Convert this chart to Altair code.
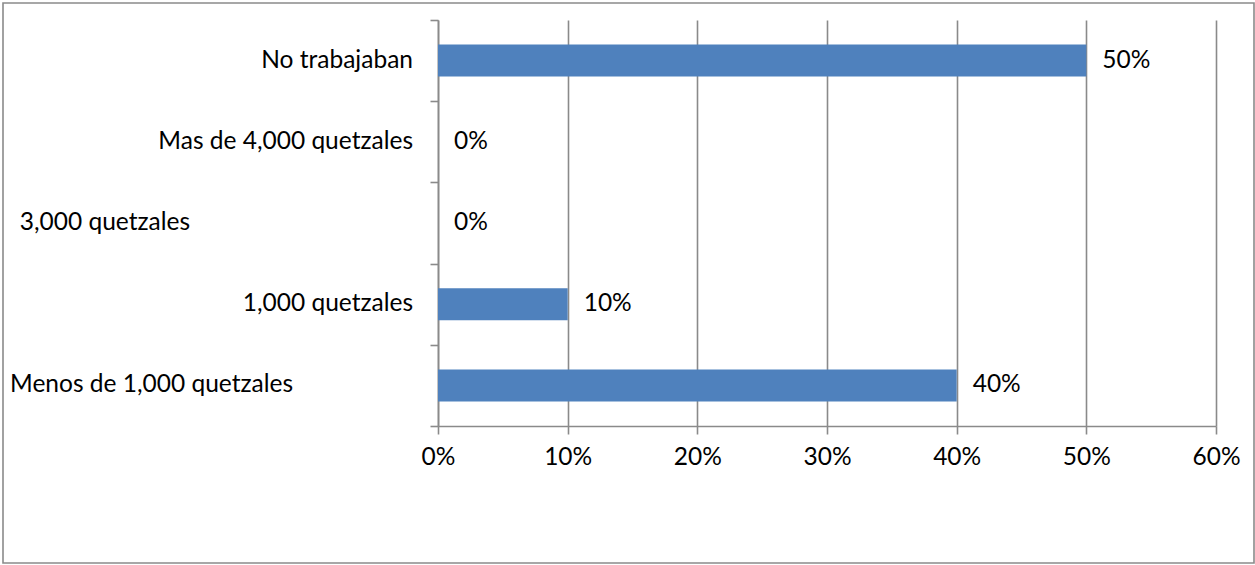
import altair as alt
import pandas as pd

categories = ["No trabajaban", "Mas de 4,000 quetzales", "3,000 quetzales",
              "1,000 quetzales", "Menos de 1,000 quetzales"]
values = [0.50, 0.0, 0.0, 0.10, 0.40]
x_ticks = [0, 0.1, 0.2, 0.3, 0.4, 0.5, 0.6]

df = pd.DataFrame({"cat": categories, "val": values})

FONT = "Lato"
GRAY = "#8a8a8a"
FS = 24.5
LW = 1.6

y_scale = alt.Scale(domain=categories, paddingInner=0, paddingOuter=0)
x_scale = alt.Scale(domain=[0, 0.6], nice=False)

base = alt.Chart(df)

bars = base.mark_bar(color="#4F81BD", size=32).encode(
    x=alt.X("val:Q", scale=x_scale,
            axis=alt.Axis(values=x_ticks, format=".0%", title=None, grid=True,
                          gridColor=GRAY, gridOpacity=1, gridWidth=LW,
                          domainColor=GRAY, domainWidth=LW,
                          tickColor=GRAY, tickWidth=LW, tickSize=8,
                          labelPadding=11, labelFlush=False)),
    y=alt.Y("cat:N", scale=y_scale, sort=categories,
            axis=alt.Axis(labels=False, title=None, tickBand="extent",
                          domainColor=GRAY, domainWidth=LW,
                          tickColor=GRAY, tickWidth=LW, tickSize=8,
                          grid=False)),
)

value_labels = base.mark_text(align="left", baseline="middle", dx=16,
                              font=FONT, fontSize=FS, color="black").encode(
    x=alt.X("val:Q", scale=x_scale),
    y=alt.Y("cat:N", scale=y_scale, sort=categories),
    text=alt.Text("val:Q", format=".0%"),
)

normal_cats = ["No trabajaban", "Mas de 4,000 quetzales", "1,000 quetzales"]

cat_labels_a = base.transform_filter(
    alt.FieldOneOfPredicate(field="cat", oneOf=normal_cats)
).mark_text(align="right", baseline="middle", dx=-25, font=FONT,
            fontSize=FS, color="black").encode(
    x=alt.value(0),
    y=alt.Y("cat:N", scale=y_scale, sort=categories),
    text="cat:N",
)

cat_labels_b = base.transform_filter(
    alt.FieldEqualPredicate(field="cat", equal="3,000 quetzales")
).mark_text(align="right", baseline="middle", dx=-248, font=FONT,
            fontSize=FS, color="black").encode(
    x=alt.value(0),
    y=alt.Y("cat:N", scale=y_scale, sort=categories),
    text="cat:N",
)

cat_labels_c = base.transform_filter(
    alt.FieldEqualPredicate(field="cat", equal="Menos de 1,000 quetzales")
).mark_text(align="right", baseline="middle", dx=-145, font=FONT,
            fontSize=FS, color="black").encode(
    x=alt.value(0),
    y=alt.Y("cat:N", scale=y_scale, sort=categories),
    text="cat:N",
)

border = alt.Chart(alt.Data(values=[{}])).mark_rect(
    fillOpacity=0, stroke=GRAY, strokeWidth=LW
).encode(
    x=alt.value(-435), x2=alt.value(816),
    y=alt.value(-17), y2=alt.value(543),
)

chart = alt.layer(
    bars, value_labels, cat_labels_a, cat_labels_b, cat_labels_c, border
).properties(
    width=778, height=406,
    autosize=alt.AutoSizeParams(type="none"),
    padding={"left": 438, "top": 20, "right": 39, "bottom": 139},
    background="white",
).configure_view(stroke=None).configure_axis(
    labelFont=FONT, labelFontSize=FS, labelColor="black"
)

chart.save("out.html", embed_options={"renderer": "svg", "actions": False})
